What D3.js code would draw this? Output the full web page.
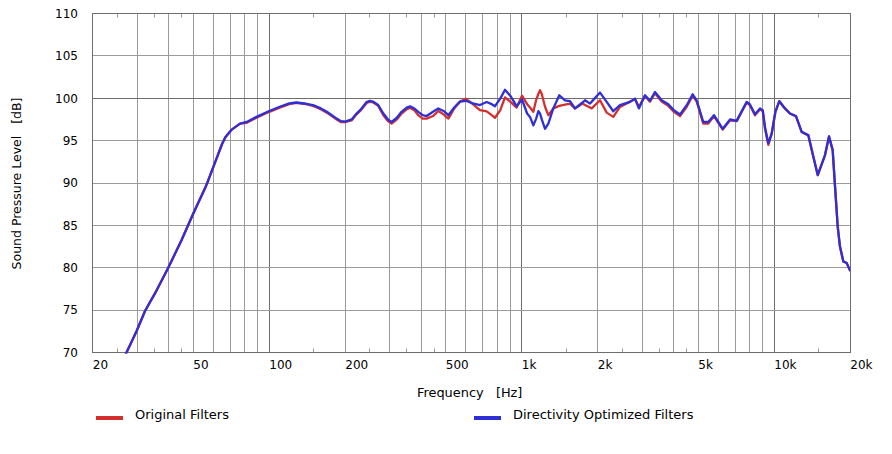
<!DOCTYPE html>
<html>
<head>
<meta charset="utf-8">
<script src="https://cdn.jsdelivr.net/npm/d3@7/dist/d3.min.js"></script>
<style>
  html, body { margin: 0; padding: 0; background: #fff; }
  svg { display: block; font-family: "DejaVu Sans", Verdana, sans-serif; }
  text { white-space: pre; }
</style>
</head>
<body>
<svg id="chart" width="892" height="454"></svg>
<script>
// frequency grid (Hz) shared by both curves
const freqs = [
  26, 27.2, 29.8, 32.2, 35.3, 39.8, 45, 50, 55.7, 57.3, 62, 65, 67, 71, 76.6, 81.4, 89,
  100, 110, 120, 128, 140, 149, 160, 169, 185, 192, 200, 212, 220, 229, 243, 250, 258, 270,
  283, 295, 305, 320, 334, 350, 361, 375, 389, 405, 420, 445, 467, 490, 512, 540, 569, 600,
  640, 683, 726, 760, 783, 822, 858, 900, 954, 1002, 1050, 1078, 1111, 1140, 1163, 1181,
  1200, 1236, 1274, 1333, 1408, 1483, 1552, 1624, 1740, 1780, 1863, 1892, 2041, 2169, 2303,
  2449, 2683, 2809, 2909, 3076, 3219, 3369, 3581, 3804, 4000, 4234, 4500, 4751, 4928, 5233,
  5476, 5770, 6250, 6680, 7096, 7776, 8000, 8386, 8780, 9000, 9186, 9470, 9767, 10100,
  10470, 11020, 11540, 12190, 12840, 13640, 14280, 14860, 15880, 16470, 17030, 17400,
  17830, 18200, 18770, 19350, 20000
];

// "Directivity Optimized Filters" (blue), dB SPL
const optimized = [
  68.8, 70.0, 72.5, 74.9, 77.0, 80.0, 83.3, 86.4, 89.4, 90.3, 93.0, 94.6, 95.4, 96.3, 97.0, 97.2, 97.8,
  98.5, 99.0, 99.4, 99.5, 99.35, 99.2, 98.8, 98.4, 97.6, 97.3, 97.25, 97.5, 98.1, 98.6, 99.55, 99.7, 99.6, 99.2,
  98.2, 97.5, 97.2, 97.7, 98.4, 98.9, 99.05, 98.8, 98.4, 98.0, 97.9, 98.4, 98.8, 98.5, 98.0, 98.9, 99.6, 99.7,
  99.4, 99.2, 99.55, 99.3, 99.06, 99.96, 101.0, 100.3, 99.06, 99.85, 98.2, 97.8, 96.8, 97.6, 98.47, 98.2,
  97.5, 96.4, 97.0, 98.8, 100.35, 99.76, 99.65, 98.8, 99.5, 99.76, 99.37, 99.6, 100.67, 99.57, 98.47,
  99.18, 99.57, 99.96, 98.8, 100.35, 99.7, 100.74, 99.76, 99.3, 98.6, 98.08, 99.18, 100.47, 99.76, 97.2,
  97.2, 98.0, 96.4, 97.5, 97.33, 99.57, 99.3, 98.1, 98.8, 98.6, 96.6, 94.7, 95.85, 98.4,
  99.65, 98.8, 98.2, 97.9, 96.04, 95.65, 93.1, 90.94, 93.3, 95.5, 93.88, 89.6,
  84.86, 82.5, 80.74, 80.55, 79.6
];

// "Original Filters" (red), dB SPL
const original = [
  68.8, 70.0, 72.5, 74.9, 77.0, 80.0, 83.3, 86.4, 89.4, 90.3, 93.0, 94.6, 95.4, 96.3, 97.0, 97.1, 97.7,
  98.4, 98.9, 99.3, 99.45, 99.3, 99.1, 98.7, 98.3, 97.5, 97.2, 97.2, 97.4, 98.0, 98.5, 99.45, 99.6, 99.5, 99.1,
  98.0, 97.3, 97.0, 97.5, 98.2, 98.7, 98.85, 98.6, 98.0, 97.6, 97.6, 97.9, 98.5, 98.1, 97.6, 98.8, 99.6, 99.95,
  99.3, 98.6, 98.45, 98.0, 97.7, 98.6, 100.1, 99.6, 98.9, 100.3, 99.3, 98.9, 98.4, 99.8, 100.5, 100.94,
  100.5, 99.0, 98.0, 98.8, 99.1, 99.25, 99.37, 98.8, 99.37, 99.2, 98.9, 98.8, 99.76, 98.3, 97.8,
  98.98, 99.6, 99.88, 98.98, 100.27, 99.6, 100.6, 99.6, 99.1, 98.4, 97.9, 99.0, 100.3, 99.6, 97.0,
  97.0, 97.9, 96.3, 97.4, 97.3, 99.5, 99.2, 98.0, 98.7, 98.5, 96.4, 94.5, 95.8, 98.4,
  99.65, 98.8, 98.2, 97.85, 96.0, 95.6, 93.1, 90.94, 93.3, 95.5, 93.88, 89.6,
  84.86, 82.5, 80.74, 80.55, 79.6
];

const xTicks = [20, 50, 100, 200, 500, 1000, 2000, 5000, 10000, 20000];
const xTickLabels = ["20", "50", "100", "200", "500", "1k", "2k", "5k", "10k", "20k"];
const yTicks = [70, 75, 80, 85, 90, 95, 100, 105, 110];
const series = [
  { name: "Original Filters", values: original, color: "#d42f2f", lx: 96, tx: 135 },
  { name: "Directivity Optimized Filters", values: optimized, color: "#2f2fd6", lx: 474, tx: 513 }
];

const svg = d3.select("#chart");
const plotL = 92.8, plotR = 850.3, plotT = 13.5, plotB = 352.5;

const x = d3.scaleLog().domain([20, 20000]).range([plotL, plotR]);
const y = d3.scaleLinear().domain([70, 110]).range([plotB, plotT]);
const px = v => Math.round(v - 0.5) + 0.5;

// vertical grid: 2..9 of each decade, darker line at each decade
const gridF = [];
[10, 100, 1000, 10000].forEach(d => {
  for (let m = 1; m <= 9; m++) {
    const f = m * d;
    if (f > 20 && f < 20000) gridF.push({ f, major: m === 1 });
  }
});
const minorF = [25, 35, 45, 150, 250, 350, 450, 1500, 2500, 3500, 4500, 15000];

const g = svg.append("g");

g.selectAll("line.vgrid").data(gridF).enter().append("line")
  .attr("class", "vgrid")
  .attr("x1", d => px(x(d.f))).attr("x2", d => px(x(d.f)))
  .attr("y1", plotT).attr("y2", plotB)
  .attr("stroke", d => d.major ? "#6e6e6e" : "#9a9a9a")
  .attr("stroke-width", 1);

g.selectAll("line.hgrid").data(yTicks.slice(1, -1)).enter().append("line")
  .attr("class", "hgrid")
  .attr("x1", plotL).attr("x2", plotR)
  .attr("y1", d => px(y(d))).attr("y2", d => px(y(d)))
  .attr("stroke", d => d === 100 ? "#6e6e6e" : "#9a9a9a")
  .attr("stroke-width", 1);

// small ticks at top and bottom edges
minorF.forEach(f => {
  const xx = px(x(f));
  g.append("line").attr("x1", xx).attr("x2", xx).attr("y1", plotB).attr("y2", plotB - 4)
    .attr("stroke", "#9a9a9a");
  g.append("line").attr("x1", xx).attr("x2", xx).attr("y1", plotT).attr("y2", plotT + 4)
    .attr("stroke", "#9a9a9a");
});

// frame
g.append("rect")
  .attr("x", px(plotL)).attr("y", plotT)
  .attr("width", px(plotR) - px(plotL)).attr("height", plotB - plotT)
  .attr("fill", "none").attr("stroke", "#6e6e6e").attr("stroke-width", 1);

// curves
svg.append("clipPath").attr("id", "plotclip").append("rect")
  .attr("x", plotL).attr("y", plotT).attr("width", plotR - plotL).attr("height", plotB - plotT + 1);

const line = d3.line()
  .x((d, i) => x(freqs[i]))
  .y(d => y(d));

svg.append("g").attr("clip-path", "url(#plotclip)")
  .selectAll("path").data(series).enter().append("path")
  .attr("d", d => line(d.values))
  .attr("fill", "none")
  .attr("stroke", d => d.color)
  .attr("stroke-width", 2.3)
  .attr("stroke-linejoin", "round");

// tick labels
svg.selectAll("text.xt").data(xTicks).enter().append("text")
  .attr("class", "xt")
  .attr("x", d => x(d)).attr("y", 369)
  .attr("font-size", 12).attr("fill", "#000")
  .text((d, i) => xTickLabels[i]);

svg.selectAll("text.yt").data(yTicks).enter().append("text")
  .attr("class", "yt")
  .attr("x", 78).attr("y", d => y(d) + 4.3)
  .attr("text-anchor", "end")
  .attr("font-size", 12).attr("fill", "#000")
  .text(d => d);

// axis titles
svg.append("text")
  .attr("x", 417).attr("y", 397)
  .attr("font-size", 12.9).attr("fill", "#000")
  .text("Frequency   [Hz]");

svg.append("text")
  .attr("transform", "translate(21,183.5) rotate(-90)")
  .attr("text-anchor", "middle")
  .attr("font-size", 12.5).attr("fill", "#000")
  .text("Sound Pressure Level   [dB]");

// legend
const lg = svg.selectAll("g.legend").data(series).enter().append("g").attr("class", "legend");
lg.append("line")
  .attr("x1", d => d.lx).attr("x2", d => d.lx + 27)
  .attr("y1", 418).attr("y2", 418)
  .attr("stroke", d => d.color).attr("stroke-width", 4);
lg.append("text")
  .attr("x", d => d.tx).attr("y", 418.5)
  .attr("font-size", 13).attr("fill", "#000")
  .text(d => d.name);
</script>
</body>
</html>
